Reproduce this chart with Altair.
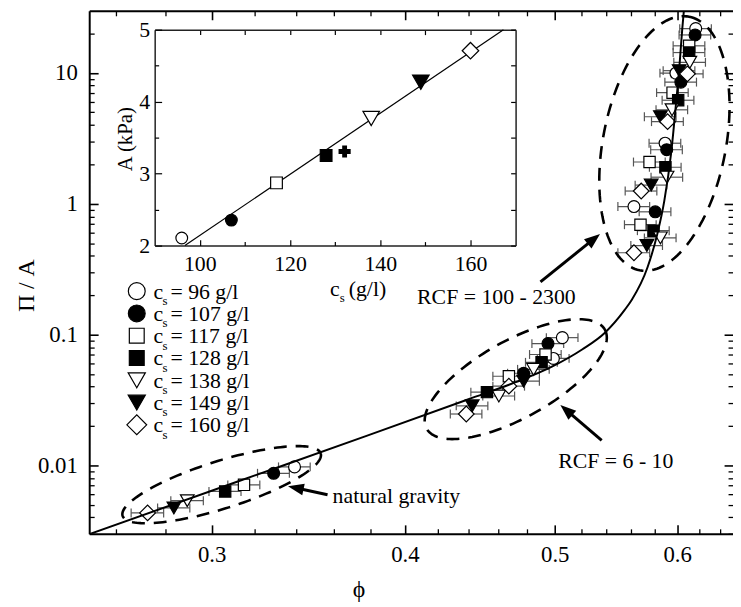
import altair as alt
import numpy as np
import pandas as pd

FONT = "Liberation Serif"

# ---------------------------------------------------------------- data
cs_values = [96, 107, 117, 128, 138, 149, 160]
cs_labels = ["= 96 g/l", "= 107 g/l", "= 117 g/l", "= 128 g/l", "= 138 g/l", "= 149 g/l", "= 160 g/l"]

# natural gravity
phi_gravity = [0.3394, 0.3290, 0.3148, 0.3061, 0.2893, 0.2836, 0.2727]
pa_gravity = [0.00974, 0.00870, 0.00710, 0.00632, 0.00537, 0.00473, 0.00433]
err_gravity = [0.0080, 0.0078, 0.0075, 0.0073, 0.0070, 0.0068, 0.0066]

# RCF = 6 - 10 (two runs)
phi_rcf_a = [0.4990, 0.4774, 0.4670, 0.4520, 0.4601, 0.4422, 0.4383]
pa_rcf_a = [0.0657, 0.0506, 0.0480, 0.0363, 0.0339, 0.0285, 0.0247]
err_rcf_a = [0.0118, 0.0113, 0.0110, 0.0107, 0.0109, 0.0104, 0.0103]

phi_rcf_b = [0.5057, 0.4950, 0.4932, 0.4903, 0.4845, 0.4774, 0.4670]
pa_rcf_b = [0.0947, 0.0853, 0.0704, 0.0613, 0.0542, 0.0440, 0.0403]
err_rcf_b = [0.0119, 0.0117, 0.0116, 0.0116, 0.0114, 0.0113, 0.0110]

# RCF = 100 - 2300 (four runs)
phi_rcf_c = [0.5626, 0.5807, 0.5681, 0.5792, 0.5852, 0.5735, 0.5626]
pa_rcf_c = [0.951, 0.867, 0.691, 0.622, 0.548, 0.479, 0.422]
err_rcf_c = [0.0133, 0.0137, 0.0134, 0.0137, 0.0138, 0.0135, 0.0133]

phi_rcf_d = [0.5893, 0.5907, 0.5758, 0.5896, 0.5910, 0.5772, 0.5687]
pa_rcf_d = [2.90, 2.586, 2.083, 1.899, 1.595, 1.388, 1.250]
err_rcf_d = [0.0139, 0.0139, 0.0136, 0.0139, 0.0139, 0.0136, 0.0134]

phi_rcf_e = [0.5989, 0.6033, 0.5959, 0.6009, 0.5954, 0.5852, 0.5915]
pa_rcf_e = [9.95, 8.50, 7.06, 6.18, 5.22, 4.62, 4.24]
err_rcf_e = [0.0141, 0.0142, 0.0140, 0.0142, 0.0140, 0.0138, 0.0140]

phi_rcf_f = [0.6168, 0.6162, 0.6108, 0.6108, 0.6114, 0.6018, 0.6092]
pa_rcf_f = [21.8, 19.5, 16.1, 14.3, 12.05, 10.4, 9.83]
err_rcf_f = [0.0145, 0.0145, 0.0144, 0.0144, 0.0144, 0.0142, 0.0144]

# model curve
curve_phi = [0.2500, 0.3122, 0.3782, 0.4402, 0.4718, 0.4983, 0.5208, 0.5388,
             0.5549, 0.5607, 0.5741, 0.5826, 0.5886, 0.5948, 0.5991, 0.6018,
             0.6045, 0.6060]
curve_pa = [0.00298, 0.00756, 0.01687, 0.03215, 0.04324, 0.0571, 0.0769, 0.1033,
            0.1543, 0.1837, 0.3266, 0.5907, 1.050, 2.51, 6.0, 10.66, 21.4, 29.8]

# dashed ellipses: centre, half major axis, half minor axis (in ln(phi), log10(P/A))
ell_phi = [0.3045, 0.4718, 0.5887]
ell_pa = [0.00712, 0.0456, 2.886]
ell_major = [(0.1475, 0.2385), (0.1327, 0.3785), (0.03687, 0.969)]
ell_minor = [(0.0106, -0.1733), (0.02795, -0.2581), (0.0897, -0.0901)]

# annotations
note_text = ["RCF = 100 - 2300", "RCF = 6 - 10", "natural gravity"]
note_phi = [0.4584, 0.5476, 0.3592]
note_pa = [0.1936, 0.01072, 0.005876]
note_align = ["center", "center", "left"]

arrow_tail_phi = [0.3565, 0.5362, 0.4895]
arrow_tail_pa = [0.00596, 0.01554, 0.2527]
arrow_head_phi = [0.3361, 0.5042, 0.5349]
arrow_head_pa = [0.00693, 0.02896, 0.5876]
arrow_angle = [282, 311, 51]
arrow_neck = [0.76, 0.82, 0.87]

# inset
inset_A = [2.106, 2.354, 2.871, 3.252, 3.766, 4.27, 4.707]
cross_cs = [132.1]
cross_A = [3.307]
fit_cs = [96.7, 167.3]
fit_A = [2.0, 5.0]

# ---------------------------------------------------------------- styles
marker_shapes = ["circle", "circle", "square", "square", "triangle-down", "triangle-down", "diamond"]
marker_fills = ["white", "black", "white", "black", "white", "black", "white"]
marker_sizes = [144, 144, 130, 130, 190, 190, 250]
legend_sizes = [289, 289, 225, 225, 300, 300, 400]
inset_sizes = [140, 140, 140, 140, 280, 280, 280]

W, H = 650, 528

# ---------------------------------------------------------------- tables
groups = [
    (phi_gravity, pa_gravity, err_gravity),
    (phi_rcf_a, pa_rcf_a, err_rcf_a),
    (phi_rcf_b, pa_rcf_b, err_rcf_b),
    (phi_rcf_c, pa_rcf_c, err_rcf_c),
    (phi_rcf_d, pa_rcf_d, err_rcf_d),
    (phi_rcf_e, pa_rcf_e, err_rcf_e),
    (phi_rcf_f, pa_rcf_f, err_rcf_f),
]
rows = []
for phis, pas, errs in groups:
    for i, (p, v, e) in enumerate(zip(phis, pas, errs)):
        rows.append(dict(cs=cs_values[i], phi=p, pa=v, lo=p - e, hi=p + e,
                         shape=marker_shapes[i], fill=marker_fills[i], size=marker_sizes[i]))
pts = pd.DataFrame(rows)
caps = pd.concat([pts[["lo", "pa"]].rename(columns={"lo": "cx"}),
                  pts[["hi", "pa"]].rename(columns={"hi": "cx"})], ignore_index=True)

curve = pd.DataFrame({"phi": curve_phi, "pa": curve_pa, "k": range(len(curve_phi))})

t = np.linspace(0, 2 * np.pi, 161)
ell_rows = []
for j in range(len(ell_phi)):
    lu = np.log(ell_phi[j]) + ell_major[j][0] * np.cos(t) + ell_minor[j][0] * np.sin(t)
    lv = np.log10(ell_pa[j]) + ell_major[j][1] * np.cos(t) + ell_minor[j][1] * np.sin(t)
    for k in range(len(t)):
        ell_rows.append(dict(e=j, k=k, phi=float(np.exp(lu[k])), pa=float(10 ** lv[k])))
ells = pd.DataFrame(ell_rows)

arr = pd.DataFrame({
    "tphi": arrow_tail_phi, "tpa": arrow_tail_pa,
    "hphi": arrow_head_phi, "hpa": arrow_head_pa, "ang": arrow_angle,
})
arr["nphi"] = [float(np.exp(np.log(a) + f * (np.log(b) - np.log(a))))
               for a, b, f in zip(arrow_tail_phi, arrow_head_phi, arrow_neck)]
arr["npa"] = [float(10 ** (np.log10(a) + f * (np.log10(b) - np.log10(a))))
              for a, b, f in zip(arrow_tail_pa, arrow_head_pa, arrow_neck)]

notes = pd.DataFrame({"txt": note_text, "phi": note_phi, "pa": note_pa, "al": note_align})

# legend layout (pixels inside the plot area)
leg = pd.DataFrame({
    "lab": cs_labels, "shape": marker_shapes, "fill": marker_fills, "size": legend_sizes,
})
leg["ry"] = [283 + 22.5 * i for i in range(len(leg))]
leg["mx"] = 48
leg["cx"] = 65
leg["sx"] = 74
leg["lx"] = 82
leg["by"] = leg["ry"] + 7.5
leg["sy"] = leg["ry"] + 14

inset_pts = pd.DataFrame({"cs": cs_values, "A": inset_A, "shape": marker_shapes,
                          "fill": marker_fills, "size": inset_sizes})
inset_open = inset_pts[inset_pts["fill"] == "white"]
inset_fill = inset_pts[inset_pts["fill"] == "black"]
cross = pd.DataFrame({"cs": cross_cs, "A": cross_A})
fit = pd.DataFrame({"cs": fit_cs, "A": fit_A})

inset_title = pd.DataFrame({"t": ["c", "s", "(g/l)"], "x": [243, 253, 262],
                            "y": [288, 294, 288], "fs": [22, 13, 22]})

# ---------------------------------------------------------------- scales / axes
xs = alt.Scale(type="log", domain=[0.25, 0.652], nice=False)
ys = alt.Scale(type="log", domain=[0.003, 29.8], nice=False)
major_x = [0.3, 0.4, 0.5, 0.6]
minor_x = [0.26, 0.28, 0.32, 0.34, 0.36, 0.38, 0.42, 0.44, 0.46, 0.48,
           0.52, 0.54, 0.56, 0.58, 0.62, 0.64]
major_y = [0.01, 0.1, 1, 10]
minor_y = [m * 10.0 ** e for e in range(-3, 2) for m in range(2, 10)
           if 0.003 <= m * 10.0 ** e <= 29.8]


def ax(orient, values, **kw):
    d = dict(orient=orient, values=values, grid=False, title=None, labels=False,
             ticks=False, domain=False, labelFont=FONT, titleFont=FONT,
             labelColor="black", titleColor="black", tickColor="black",
             domainColor="black", titleFontWeight="normal")
    d.update(kw)
    return alt.Axis(**d)


def tk(n):
    return {"expr": str(-n)}


ax_xlab = ax("bottom", major_x, labels=True, domain=True, domainWidth=2, format=".1f",
             labelFontSize=23, labelPadding=10, labelFlush=False,
             title="ϕ", titleFontSize=24, titleX=272, titleY=56,
             titleAlign="center", titleBaseline="middle")
ax_xmaj = ax("bottom", major_x, ticks=True, tickSize=tk(9), tickWidth=1.6)
ax_xmin = ax("bottom", minor_x, ticks=True, tickSize=tk(5), tickWidth=1.3)
ax_xtmaj = ax("top", major_x, ticks=True, tickSize=tk(9), tickWidth=1.6, domain=True, domainWidth=2)
ax_xtmin = ax("top", minor_x, ticks=True, tickSize=tk(5), tickWidth=1.3)

ax_ylab = ax("left", major_y, labels=True, domain=True, domainWidth=2, format="~g",
             labelFontSize=23, labelPadding=12,
             title="Π / A", titleFontSize=24, titleX=-63, titleY=277, titleAngle=270,
             titleAlign="center", titleBaseline="middle")
ax_ymaj = ax("left", major_y, ticks=True, tickSize=tk(9), tickWidth=1.6)
ax_ymin = ax("left", minor_y, ticks=True, tickSize=tk(5), tickWidth=1.3)
ax_yrmaj = ax("right", major_y, ticks=True, tickSize=tk(9), tickWidth=1.6)
ax_yrmin = ax("right", minor_y, ticks=True, tickSize=tk(5), tickWidth=1.3)

# ---------------------------------------------------------------- main layers
err_rules = alt.Chart(pts).mark_rule(color="#555555", strokeWidth=1.2).encode(
    x=alt.X("lo:Q", scale=xs, axis=ax_xlab), x2="hi:Q",
    y=alt.Y("pa:Q", scale=ys, axis=ax_ylab))

err_caps = alt.Chart(caps).mark_tick(orient="vertical", size=9, thickness=1.2,
                                     color="#555555", opacity=1).encode(
    x=alt.X("cx:Q", scale=xs, axis=ax_xmaj),
    y=alt.Y("pa:Q", scale=ys, axis=ax_ymaj))

points = alt.Chart(pts).mark_point(filled=True, stroke="black", strokeWidth=1.2, opacity=1).encode(
    x=alt.X("phi:Q", scale=xs, axis=ax_xmin),
    y=alt.Y("pa:Q", scale=ys, axis=ax_ymin),
    shape=alt.Shape("shape:N", scale=None),
    fill=alt.Fill("fill:N", scale=None),
    size=alt.Size("size:Q", scale=None))

curve_line = alt.Chart(curve).mark_line(color="black", strokeWidth=2, clip=True,
                                        interpolate="monotone").encode(
    x=alt.X("phi:Q", scale=xs, axis=ax_xtmaj),
    y=alt.Y("pa:Q", scale=ys, axis=ax_yrmaj),
    order="k:Q")

ellipses = alt.Chart(ells).mark_line(color="black", strokeWidth=2.6, strokeDash=[13, 9],
                                     clip=True).encode(
    x=alt.X("phi:Q", scale=xs, axis=ax_xtmin),
    y=alt.Y("pa:Q", scale=ys, axis=ax_yrmin),
    detail="e:N", order="k:Q")

arrow_lines = alt.Chart(arr).mark_rule(color="black", strokeWidth=3).encode(
    x=alt.X("tphi:Q", scale=xs, axis=None), y=alt.Y("tpa:Q", scale=ys, axis=None),
    x2="nphi:Q", y2="npa:Q")

arrow_heads = alt.Chart(arr).mark_point(shape="M0,0L0.375,1L-0.375,1Z", filled=True,
                                        color="black", size=1024, opacity=1).encode(
    x=alt.X("hphi:Q", scale=xs, axis=None), y=alt.Y("hpa:Q", scale=ys, axis=None),
    angle=alt.Angle("ang:Q", scale=None))

note_layers = []
for al in ["center", "left"]:
    note_layers.append(
        alt.Chart(notes[notes["al"] == al]).mark_text(font=FONT, fontSize=22, color="black",
                                                       align=al, baseline="middle").encode(
            x=alt.X("phi:Q", scale=xs, axis=None), y=alt.Y("pa:Q", scale=ys, axis=None),
            text="txt:N"))

leg_marks = alt.Chart(leg).mark_point(filled=True, stroke="black", strokeWidth=1.2, opacity=1).encode(
    x=alt.X("mx:Q", scale=None, axis=None), y=alt.Y("ry:Q", scale=None, axis=None),
    shape=alt.Shape("shape:N", scale=None), fill=alt.Fill("fill:N", scale=None),
    size=alt.Size("size:Q", scale=None))
leg_c = alt.Chart(leg).mark_text(text="c", font=FONT, fontSize=22, color="black",
                                 align="left", baseline="alphabetic").encode(
    x=alt.X("cx:Q", scale=None, axis=None), y=alt.Y("by:Q", scale=None, axis=None))
leg_s = alt.Chart(leg).mark_text(text="s", font=FONT, fontSize=13, color="black",
                                 align="left", baseline="alphabetic").encode(
    x=alt.X("sx:Q", scale=None, axis=None), y=alt.Y("sy:Q", scale=None, axis=None))
leg_l = alt.Chart(leg).mark_text(font=FONT, fontSize=22, color="black",
                                 align="left", baseline="alphabetic").encode(
    x=alt.X("lx:Q", scale=None, axis=None), y=alt.Y("by:Q", scale=None, axis=None),
    text="lab:N")
inset_xt = alt.Chart(inset_title).mark_text(font=FONT, color="black", align="left",
                                            baseline="alphabetic").encode(
    x=alt.X("x:Q", scale=None, axis=None), y=alt.Y("y:Q", scale=None, axis=None),
    text="t:N", size=alt.Size("fs:Q", scale=None))

main = alt.layer(err_rules, err_caps, points, curve_line, ellipses, arrow_lines, arrow_heads,
                 *note_layers, leg_marks, leg_c, leg_s, leg_l, inset_xt
                 ).resolve_axis(x="independent", y="independent")

# ---------------------------------------------------------------- inset
IL, IR, IT, IB = 66.1, 430.5, 19, 237
ixs = alt.Scale(domain=[90, 170], range=[IL, IR], nice=False, zero=False)
iys = alt.Scale(domain=[2, 5], range=[IB, IT], nice=False, zero=False)
ix_major = [100, 120, 140, 160]
ix_minor = [110, 130, 150]
iy_major = [2, 3, 4, 5]
iy_minor = [2.5, 3.5, 4.5]

iax_xlab = ax("bottom", ix_major, offset=-(H - IB), labels=True, domain=True, domainWidth=1.5,
              domainColor="#222222", labelFontSize=22, labelPadding=8, labelFlush=False)
iax_xmaj = ax("bottom", ix_major, offset=-(H - IB), ticks=True, tickSize=tk(6), tickWidth=1.2)
iax_xmin = ax("bottom", ix_minor, offset=-(H - IB), ticks=True, tickSize=tk(4), tickWidth=1.2)
iax_xt = ax("top", ix_major + ix_minor, offset=-IT, ticks=True, tickSize=tk(5), tickWidth=1.2,
            domain=True, domainWidth=1.5, domainColor="#222222")
iax_ylab = ax("left", iy_major, offset=-IL, labels=True, domain=True, domainWidth=1.5,
              domainColor="#222222", labelFontSize=22, labelPadding=5,
              title="A (kPa)", titleFontSize=21, titleX=-29, titleY=129, titleAngle=270,
              titleAlign="center", titleBaseline="middle")
iax_ymaj = ax("left", iy_major, offset=-IL, ticks=True, tickSize=tk(7), tickWidth=1.2)
iax_ymin = ax("left", iy_minor, offset=-IL, ticks=True, tickSize=tk(4), tickWidth=1.2)
iax_yr = ax("right", iy_major + iy_minor, offset=-(W - IR), ticks=True, tickSize=tk(5),
            tickWidth=1.2, domain=True, domainWidth=1.5, domainColor="#222222")

fit_line = alt.Chart(fit).mark_line(color="black", strokeWidth=1.2).encode(
    x=alt.X("cs:Q", scale=ixs, axis=iax_xlab), y=alt.Y("A:Q", scale=iys, axis=iax_ylab))
inset_o = alt.Chart(inset_open).mark_point(filled=True, stroke="black", strokeWidth=1.2, opacity=1).encode(
    x=alt.X("cs:Q", scale=ixs, axis=iax_xmaj), y=alt.Y("A:Q", scale=iys, axis=iax_ymaj),
    shape=alt.Shape("shape:N", scale=None), fill=alt.Fill("fill:N", scale=None),
    size=alt.Size("size:Q", scale=None))
inset_f = alt.Chart(inset_fill).mark_point(filled=True, stroke="black", strokeWidth=1.2, opacity=1).encode(
    x=alt.X("cs:Q", scale=ixs, axis=iax_xmin), y=alt.Y("A:Q", scale=iys, axis=iax_ymin),
    shape=alt.Shape("shape:N", scale=None), fill=alt.Fill("fill:N", scale=None),
    size=alt.Size("size:Q", scale=None))
inset_x = alt.Chart(cross).mark_point(shape="cross", filled=True, color="black", size=150,
                                      opacity=1).encode(
    x=alt.X("cs:Q", scale=ixs, axis=iax_xt), y=alt.Y("A:Q", scale=iys, axis=iax_yr))

inset = alt.layer(fit_line, inset_o, inset_f, inset_x).resolve_axis(x="independent", y="independent")

chart = alt.layer(main, inset).resolve_scale(x="independent", y="independent").properties(
    width=W, height=H,
    padding={"left": 82, "top": 0, "right": 0, "bottom": 66},
    autosize=alt.AutoSizeParams(type="none"),
).configure_view(stroke=None).configure_axis(
    labelFont=FONT, titleFont=FONT, labelColor="black", titleColor="black",
    tickColor="black", domainColor="black", titleFontWeight="normal")

chart.save("out.html", embed_options={"renderer": "svg", "actions": False})
